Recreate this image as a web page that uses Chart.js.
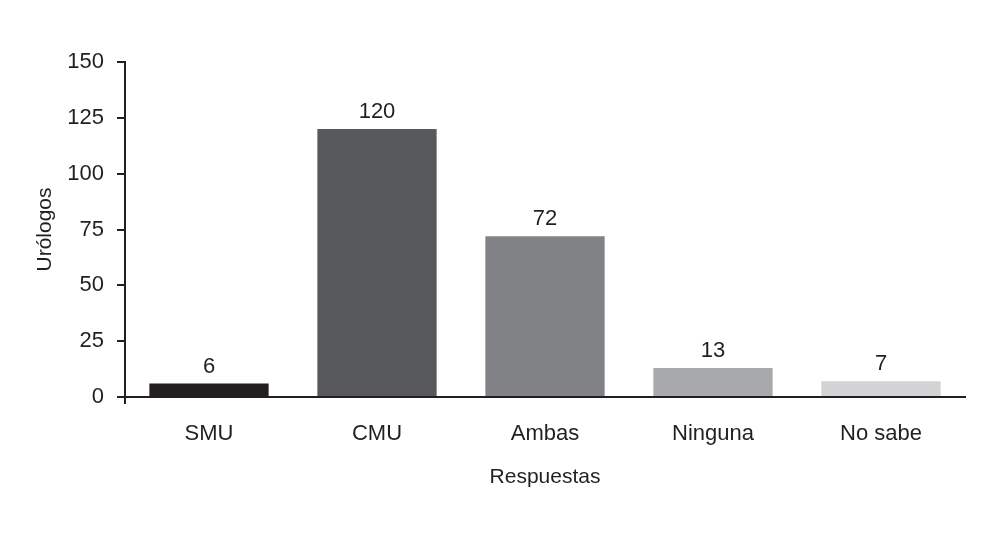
<!DOCTYPE html>
<html>
<head>
<meta charset="utf-8">
<script src="https://cdn.jsdelivr.net/npm/chart.js@4/dist/chart.umd.min.js"></script>
<style>
  html, body { margin: 0; padding: 0; background: #fff; }
  #wrap { width: 1000px; height: 533px; }
</style>
</head>
<body>
<div id="wrap"><canvas id="grafico" width="1000" height="533"></canvas></div>
<script>
const respuestas = ['SMU', 'CMU', 'Ambas', 'Ninguna', 'No sabe'];
const urologos = [6, 120, 72, 13, 7];
const colores = ['#231f20', '#58595b', '#808285', '#a7a9ac', '#d1d3d4'];
const ticksY = [0, 25, 50, 75, 100, 125, 150];

const FONT = "'Liberation Sans Narrow', 'Arial Narrow', 'Liberation Sans', sans-serif";
const INK = '#231f20';

// valores encima de cada barra
const etiquetas = {
    id: 'etiquetas',
    afterDatasetsDraw(chart) {
        const { ctx } = chart;
        const meta = chart.getDatasetMeta(0);
        ctx.save();
        ctx.font = '22px ' + FONT;
        ctx.fillStyle = INK;
        ctx.textAlign = 'center';
        ctx.textBaseline = 'alphabetic';
        meta.data.forEach((bar, i) => {
            ctx.fillText(String(urologos[i]), bar.x, bar.y - 11);
        });
        ctx.restore();
    }
};

new Chart(document.getElementById('grafico'), {
    type: 'bar',
    data: {
        labels: respuestas,
        datasets: [{
            data: urologos,
            backgroundColor: colores,
            borderWidth: 0,
            barPercentage: 0.71,
            categoryPercentage: 1
        }]
    },
    options: {
        responsive: false,
        animation: false,
        layout: { padding: { top: 62, right: 35, bottom: 0, left: 0 } },
        plugins: {
            legend: { display: false },
            tooltip: { enabled: false }
        },
        scales: {
            x: {
                grid: {
                    display: true,
                    drawOnChartArea: false,
                    drawTicks: true,
                    tickLength: 7,
                    lineWidth: 2,
                    color: c => c.index === 0 ? INK : 'rgba(0,0,0,0)'
                },
                border: { display: true, color: INK, width: 2 },
                ticks: {
                    color: INK,
                    padding: 17,
                    font: { family: FONT, size: 22 }
                },
                title: {
                    display: true,
                    text: 'Respuestas',
                    color: INK,
                    font: { family: FONT, size: 21 },
                    padding: { top: 0, bottom: 43 }
                },
                afterFit(scale) { scale.height = 136; }
            },
            y: {
                min: 0,
                max: 150,
                afterBuildTicks(scale) {
                    scale.ticks = ticksY.map(v => ({ value: v }));
                },
                grid: {
                    display: true,
                    drawOnChartArea: false,
                    drawTicks: true,
                    tickLength: 8,
                    lineWidth: 2,
                    color: INK
                },
                border: { display: true, color: INK, width: 2 },
                ticks: {
                    color: INK,
                    padding: 13,
                    font: { family: FONT, size: 22 }
                },
                title: {
                    display: true,
                    text: 'Urólogos',
                    color: INK,
                    font: { family: FONT, size: 21 },
                    padding: { top: 33, bottom: 0 }
                },
                afterFit(scale) { scale.width = 125; }
            }
        }
    },
    plugins: [etiquetas]
});
</script>
</body>
</html>
